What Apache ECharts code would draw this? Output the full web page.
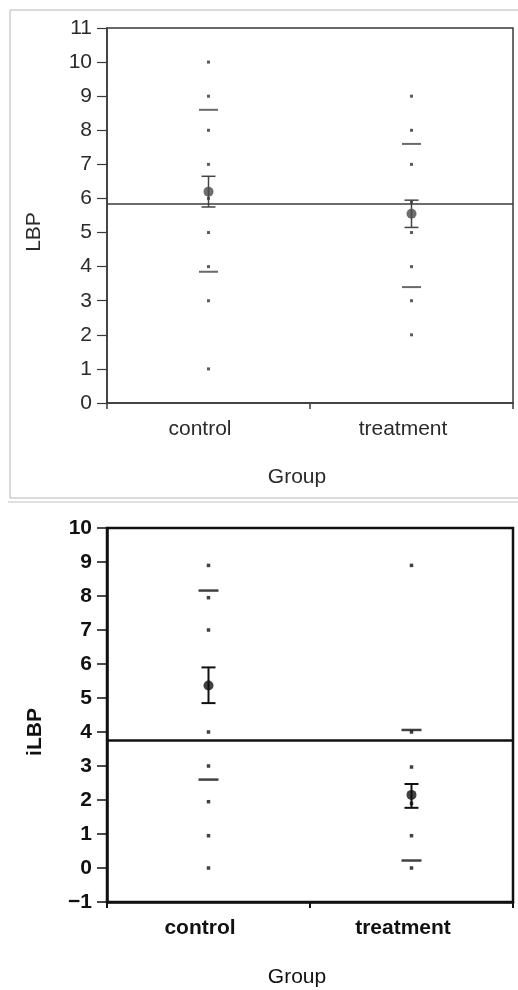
<!DOCTYPE html>
<html>
<head>
<meta charset="utf-8">
<script src="https://cdn.jsdelivr.net/npm/echarts@6/dist/echarts.min.js"></script>
<style>html,body{margin:0;padding:0;background:#fff}#c{width:518px;height:990px}</style>
</head>
<body>
<div id="c"></div>
<script>
// ---- data ----
var groups = ['control', 'treatment'];
var yTicksTop = [0, 11];
var yTicksBottom = [-1, 10];

// Top panel: LBP
var lbpControl = [10, 9, 8, 7, 6, 5, 4, 3, 1];
var lbpTreatment = [9, 8, 7, 5.9, 5, 4, 3, 2];
var lbpMean = [6.2, 5.55];
var lbpErrLow = [5.75, 5.15];
var lbpErrHigh = [6.65, 5.95];
var lbpSdUpper = [8.6, 7.6];
var lbpSdLower = [3.85, 3.4];
var lbpGrandMean = 5.85;

// Bottom panel: iLBP
var ilbpControl = [8.9, 7.95, 7, 4, 3, 1.95, 0.95, 0];
var ilbpTreatment = [8.9, 4, 2.97, 1.9, 0.95, 0];
var ilbpMean = [5.37, 2.15];
var ilbpErrLow = [4.85, 1.77];
var ilbpErrHigh = [5.9, 2.47];
var ilbpSdUpper = [8.16, 4.06];
var ilbpSdLower = [2.6, 0.22];
var ilbpGrandMean = 3.75;

function pts(vals, idx) { return vals.map(function (v) { return [idx, v]; }); }
function pairs(arr) { return arr.map(function (v, i) { return [i, v]; }); }
function errData(lo, hi) { return lo.map(function (v, i) { return [i, v, hi[i]]; }); }

function errRender(color, lw, cap) {
  return function (params, api) {
    var x = api.value(0);
    var p1 = api.coord([x, api.value(1)]);
    var p2 = api.coord([x, api.value(2)]);
    var st = { stroke: color, lineWidth: lw };
    return { type: 'group', children: [
      { type: 'line', shape: { x1: p1[0], y1: p1[1], x2: p2[0], y2: p2[1] }, style: st },
      { type: 'line', shape: { x1: p1[0] - cap, y1: p1[1], x2: p1[0] + cap, y2: p1[1] }, style: st },
      { type: 'line', shape: { x1: p2[0] - cap, y1: p2[1], x2: p2[0] + cap, y2: p2[1] }, style: st }
    ]};
  };
}

var FONT = '"Liberation Sans", Arial, sans-serif';
var topC = '#3a3a3a', botC = '#111';

var chart = echarts.init(document.getElementById('c'), null, { renderer: 'canvas' });
chart.setOption({
  backgroundColor: '#fff',
  animation: false,
  grid: [
    { left: 107, top: 28, width: 406, height: 375, show: true, borderColor: topC, borderWidth: 1.5, backgroundColor: 'transparent' },
    { left: 107, top: 528, width: 406, height: 374, show: true, borderColor: botC, borderWidth: 2.5, backgroundColor: 'transparent' }
  ],
  xAxis: [
    { type: 'category', gridIndex: 0, data: groups, boundaryGap: true,
      axisLine: { onZero: false, lineStyle: { color: topC, width: 1.5 } },
      axisTick: { show: true, interval: 0, length: 6, lineStyle: { color: topC, width: 1.5 } },
      axisLabel: { color: '#2a2a2a', fontFamily: FONT, fontSize: 21, margin: 16, padding: [0, 17, 0, 0] } },
    { type: 'category', gridIndex: 1, data: groups, boundaryGap: true,
      axisLine: { onZero: false, lineStyle: { color: botC, width: 2.5 } },
      axisTick: { show: true, interval: 0, length: 6, lineStyle: { color: botC, width: 2 } },
      axisLabel: { color: botC, fontFamily: FONT, fontWeight: 'bold', fontSize: 21, margin: 16, padding: [0, 17, 0, 0] } }
  ],
  yAxis: [
    { type: 'value', gridIndex: 0, min: yTicksTop[0], max: yTicksTop[1], interval: 1,
      splitLine: { show: false },
      axisLine: { show: true, onZero: false, lineStyle: { color: topC, width: 1.5 } },
      axisTick: { show: true, length: 10, lineStyle: { color: topC, width: 1.2 } },
      axisLabel: { color: '#2a2a2a', fontFamily: FONT, fontSize: 21, margin: 15 } },
    { type: 'value', gridIndex: 1, min: yTicksBottom[0], max: yTicksBottom[1], interval: 1,
      splitLine: { show: false },
      axisLine: { show: true, onZero: false, lineStyle: { color: botC, width: 2.5 } },
      axisTick: { show: true, length: 10, lineStyle: { color: botC, width: 1.5 } },
      axisLabel: { color: botC, fontFamily: FONT, fontWeight: 'bold', fontSize: 21, margin: 15,
        formatter: function (v) { return String(v).replace('-', '\u2212'); } } }
  ],
  series: [
    // ---- top panel ----
    { type: 'scatter', xAxisIndex: 0, yAxisIndex: 0, data: pts(lbpControl, 0).concat(pts(lbpTreatment, 1)),
      symbol: 'rect', symbolSize: 3, itemStyle: { color: '#333' }, z: 3 },
    { type: 'scatter', xAxisIndex: 0, yAxisIndex: 0, data: pairs(lbpSdUpper).concat(pairs(lbpSdLower)),
      symbol: 'rect', symbolSize: [19, 2], itemStyle: { color: '#444' }, z: 3 },
    { type: 'custom', xAxisIndex: 0, yAxisIndex: 0, data: errData(lbpErrLow, lbpErrHigh),
      renderItem: errRender('#444', 1.5, 7), z: 4 },
    { type: 'scatter', xAxisIndex: 0, yAxisIndex: 0, data: pairs(lbpMean),
      symbol: 'circle', symbolSize: 10, itemStyle: { color: '#4a4a4a' }, z: 5 },
    { type: 'line', xAxisIndex: 0, yAxisIndex: 0, data: [],
      markLine: { silent: true, symbol: 'none', label: { show: false },
        lineStyle: { color: topC, width: 1.5, type: 'solid' }, data: [{ yAxis: lbpGrandMean }] } },
    // ---- bottom panel ----
    { type: 'scatter', xAxisIndex: 1, yAxisIndex: 1, data: pts(ilbpControl, 0).concat(pts(ilbpTreatment, 1)),
      symbol: 'rect', symbolSize: 3.5, itemStyle: { color: '#111' }, z: 3 },
    { type: 'scatter', xAxisIndex: 1, yAxisIndex: 1, data: pairs(ilbpSdUpper).concat(pairs(ilbpSdLower)),
      symbol: 'rect', symbolSize: [20, 2.5], itemStyle: { color: '#111' }, z: 3 },
    { type: 'custom', xAxisIndex: 1, yAxisIndex: 1, data: errData(ilbpErrLow, ilbpErrHigh),
      renderItem: errRender('#111', 2, 7), z: 4 },
    { type: 'scatter', xAxisIndex: 1, yAxisIndex: 1, data: pairs(ilbpMean),
      symbol: 'circle', symbolSize: 10, itemStyle: { color: '#111' }, z: 5 },
    { type: 'line', xAxisIndex: 1, yAxisIndex: 1, data: [],
      markLine: { silent: true, symbol: 'none', label: { show: false },
        lineStyle: { color: botC, width: 2.5, type: 'solid' }, data: [{ yAxis: ilbpGrandMean }] } }
  ],
  graphic: [
    { type: 'rect', shape: { x: 10, y: 10, width: 520, height: 488 }, style: { fill: 'none', stroke: '#b5b5b5', lineWidth: 1 }, z: -1 },
    { type: 'line', shape: { x1: 8, y1: 502, x2: 518, y2: 502 }, style: { stroke: '#c0c0c0', lineWidth: 1 }, z: -1 },
    { type: 'text', x: 34, y: 232, rotation: Math.PI / 2,
      style: { text: 'LBP', font: '21px ' + FONT, fill: '#2a2a2a', textAlign: 'center', textVerticalAlign: 'middle' } },
    { type: 'text', x: 297, y: 477,
      style: { text: 'Group', font: '21px ' + FONT, fill: '#2a2a2a', textAlign: 'center', textVerticalAlign: 'middle' } },
    { type: 'text', x: 35, y: 732, rotation: Math.PI / 2,
      style: { text: 'iLBP', font: 'bold 21px ' + FONT, fill: '#111', textAlign: 'center', textVerticalAlign: 'middle' } },
    { type: 'text', x: 297, y: 977,
      style: { text: 'Group', font: '21px ' + FONT, fill: '#111', textAlign: 'center', textVerticalAlign: 'middle' } }
  ]
});
</script>
</body>
</html>
